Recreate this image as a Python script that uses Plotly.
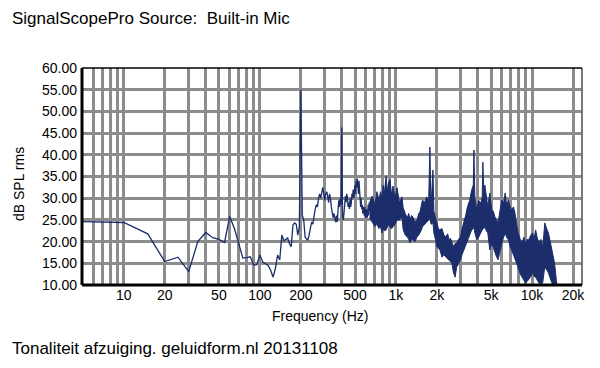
import plotly.graph_objects as go

# ---- data ----
# sparse low-frequency part of the spectrum (5 Hz bins)
line_freq = [5, 10, 15, 20, 25, 30, 35, 40, 45, 50, 55, 60, 65, 70, 75, 80, 85, 90, 95, 100,
             105, 110, 115, 120, 125, 130, 135, 140, 145, 150, 155, 160, 165, 170, 175, 180, 185,
             190, 195, 200, 205, 210, 215, 220, 225, 230, 235, 240, 245, 250, 255, 260, 265, 270,
             275, 280, 285, 290, 295, 300, 305, 310, 315, 320, 325, 330, 335, 340, 345, 350, 355,
             360, 365, 370, 375, 380, 385, 390, 395, 400, 405, 410, 415, 420, 425, 430, 435, 440,
             445, 450, 455, 460, 465, 470, 475, 480, 485, 490, 495, 500, 505, 510, 515, 520, 525,
             530, 535, 540, 545, 550, 555, 560, 565, 570, 575, 580, 585, 590, 595, 600, 605, 610,
             615, 620, 625, 630, 635, 640]
line_db = [24.6, 24.4, 21.8, 15.4, 16.4, 13.1, 20.0, 22.1, 20.9, 20.5, 19.8, 25.8, 23.0, 19.3, 16.2,
           16.3, 16.5, 14.6, 14.7, 16.9, 15.3, 14.9, 14.5, 13.4, 11.8, 13.8, 16.9, 15.8, 21.5, 20.2,
           20.6, 20.8, 19.5, 18.8, 23.8, 24.3, 24.0, 21.5, 23.5, 55.0, 26.0, 25.0, 21.0, 20.5, 20.3,
           21.5, 23.0, 24.5, 24.0, 26.5, 27.5, 28.5, 28.0, 30.0, 31.0, 30.0, 31.5, 32.5, 31.0, 29.5,
           31.0, 31.5, 30.5, 29.0, 31.0, 30.0, 28.0, 27.0, 25.5, 26.5, 25.0, 24.5, 26.0, 24.5, 27.0,
           29.5, 28.0, 30.0, 28.5, 46.3, 26.0, 25.0, 26.5, 28.0, 30.5, 29.0, 31.0, 30.0, 28.0, 29.0,
           27.5, 30.0, 28.0, 29.0, 31.0, 30.0, 32.0, 30.0, 31.5, 33.0, 31.0, 34.0, 32.5, 34.5, 33.0,
           31.0, 34.0, 32.0, 29.0, 28.0, 30.0, 27.5, 28.5, 26.5, 28.0, 27.0, 26.0, 28.0, 27.0, 25.5,
           27.5, 26.5, 25.5, 27.0, 28.5, 26.0, 29.0, 27.0, 28.0]

# dense upper part: the spectrum is a solid band, given by its upper and lower edges
band_freq = [640, 670, 700, 725, 750, 770, 790, 805, 820, 846, 865, 880, 904, 930, 951, 985,
             1018, 1060, 1107, 1130, 1170, 1210, 1240, 1270, 1300, 1330, 1380, 1430, 1470, 1500,
             1530, 1565, 1620, 1680, 1740, 1775, 1810, 1870, 1900, 1950, 2000, 2050, 2100, 2180,
             2250, 2330, 2400, 2450, 2510, 2570, 2650, 2720, 2790, 2880, 2980, 3060, 3150, 3250,
             3350, 3480, 3600, 3700, 3740, 3800, 3930, 4050, 4200, 4300, 4350, 4420, 4500, 4610,
             4730, 4890, 5050, 5200, 5330, 5480, 5630, 5800, 6000, 6180, 6350, 6500, 6700, 6900,
             7080, 7300, 7490, 7700, 7900, 8200, 8450, 8700, 8930, 9200, 9450, 9800, 10100, 10350,
             10620, 10900, 11200, 11600, 11970, 12200, 12400, 12800, 13200, 13600, 14000, 14300,
             14620, 15100, 15500]
band_hi = [29.0, 30.5, 28.5, 31.5, 29.5, 31.5, 30.0, 33.0, 31.0, 35.0, 31.5, 33.5, 34.3, 30.5,
           32.8, 30.0, 32.4, 29.0, 30.3, 27.8, 26.5, 25.4, 26.5, 25.0, 26.0, 25.7, 24.5, 25.0,
           26.5, 26.8, 28.0, 29.6, 29.0, 30.3, 29.5, 41.8, 28.0, 36.5, 27.0, 25.5, 24.3, 23.0,
           22.7, 23.0, 21.5, 21.1, 21.8, 20.4, 20.8, 19.7, 18.8, 19.5, 19.7, 20.5, 21.1, 23.0,
           24.3, 26.0, 28.0, 29.5, 31.9, 33.0, 41.1, 30.0, 27.3, 29.5, 28.9, 30.0, 38.3, 31.0,
           33.0, 30.0, 28.0, 31.2, 27.3, 27.0, 25.7, 25.0, 24.3, 27.0, 29.6, 29.0, 31.2, 28.5,
           29.6, 28.0, 27.3, 28.0, 26.6, 24.0, 22.0, 20.5, 19.7, 21.0, 19.7, 20.5, 20.4, 21.5,
           22.0, 20.5, 22.7, 21.0, 19.7, 20.5, 18.8, 21.5, 24.3, 23.0, 22.0, 20.0, 18.1, 17.0,
           15.1, 11.0, 8.0]
band_lo = [25.5, 24.5, 23.5, 24.0, 23.0, 23.5, 22.0, 23.0, 22.5, 22.7, 23.5, 24.0, 23.4, 23.0,
           23.4, 24.0, 25.0, 25.0, 25.7, 22.7, 21.5, 21.1, 20.5, 19.7, 20.5, 20.4, 20.0, 21.1,
           21.5, 22.0, 22.5, 23.4, 24.0, 24.5, 25.0, 25.7, 24.0, 24.3, 22.0, 20.5, 18.8, 18.5,
           18.1, 16.4, 17.0, 16.4, 16.0, 15.8, 15.5, 15.1, 12.8, 11.8, 14.1, 15.0, 15.8, 17.0,
           18.1, 19.0, 20.4, 21.5, 22.7, 23.0, 23.5, 22.0, 20.4, 21.0, 22.0, 22.5, 23.0, 23.0,
           23.4, 22.5, 22.0, 18.1, 19.7, 18.5, 17.4, 16.5, 15.8, 18.0, 19.7, 21.0, 22.0, 21.0,
           20.4, 19.0, 18.1, 17.0, 16.4, 15.0, 14.1, 12.5, 11.8, 10.8, 10.5, 10.8, 11.2, 12.0,
           12.8, 12.0, 11.8, 11.0, 10.5, 10.2, 10.5, 12.5, 14.1, 13.5, 12.8, 11.5, 10.5, 9.5,
           9.0, 8.0, 7.0]

# axis ticks
y_ticks = [10, 15, 20, 25, 30, 35, 40, 45, 50, 55, 60]
x_grid = [6, 7, 8, 9, 10, 20, 30, 40, 50, 60, 70, 80, 90, 100, 200, 300, 400, 500, 600, 700, 800,
          900, 1000, 2000, 3000, 4000, 5000, 6000, 7000, 8000, 9000, 10000, 20000]
x_labels = {10: "10", 20: "20", 50: "50", 100: "100", 200: "200", 500: "500", 1000: "1k",
            2000: "2k", 5000: "5k", 10000: "10k", 20000: "20k"}

# ---- figure ----
NAVY = "#1b2d6b"
GRID = "#8c8c8c"
FONT = "Liberation Sans, Arial, Helvetica, sans-serif"

OFF = 8  # page body margin
W, H = 600, 368
# target plot box on screen: x 82..582, y 68..285
L, T = 82 - OFF, 68 - OFF
R = W - (582 - OFF)
B = H - (285 - OFF)
PW, PH = W - L - R, H - T - B


def px(x):
    return (x - OFF - L) / PW


def py(y):
    return (H - B - (y - OFF)) / PH


fig = go.Figure()
fig.add_trace(go.Scatter(x=band_freq, y=band_lo, mode="lines",
                         line=dict(color=NAVY, width=1), hoverinfo="skip"))
fig.add_trace(go.Scatter(x=band_freq, y=band_hi, mode="lines", fill="tonexty",
                         fillcolor=NAVY, line=dict(color=NAVY, width=1), hoverinfo="skip"))
fig.add_trace(go.Scatter(x=line_freq, y=line_db, mode="lines",
                         line=dict(color=NAVY, width=1.3), hoverinfo="skip"))

fig.update_layout(
    width=W, height=H,
    margin=dict(l=L, r=R, t=T, b=B, autoexpand=False),
    paper_bgcolor="white", plot_bgcolor="white",
    showlegend=False,
    font=dict(family=FONT, color="black", size=14),
    xaxis=dict(type="log", range=[0.693, 4.367],
               tickvals=x_grid, ticktext=[x_labels.get(v, "") for v in x_grid],
               showgrid=True, gridcolor=GRID, gridwidth=2.5,
               zeroline=False, showline=False, ticks="",
               tickfont=dict(size=14)),
    yaxis=dict(range=[10, 60], tickvals=y_ticks, tickformat=".2f",
               showgrid=True, gridcolor=GRID, gridwidth=2.5,
               zeroline=False, showline=False, ticks="", ticklabelstandoff=4,
               tickfont=dict(size=14)),
    shapes=[
        dict(type="line", xref="paper", yref="paper", x0=1, x1=1, y0=0, y1=1,
             line=dict(color="#777777", width=2)),
        dict(type="line", xref="paper", yref="paper", x0=0, x1=1, y0=1, y1=1,
             line=dict(color="black", width=1.5)),
        dict(type="line", xref="paper", yref="paper", x0=0, x1=0, y0=0, y1=1,
             line=dict(color="black", width=3)),
        dict(type="line", xref="paper", yref="paper", x0=0, x1=1, y0=0, y1=0,
             line=dict(color="black", width=3)),
    ],
    annotations=[
        dict(text="SignalScopePro Source:  Built-in Mic", xref="paper", yref="paper",
             x=px(10), y=py(18), xanchor="left", yanchor="middle", showarrow=False,
             font=dict(size=17)),
        dict(text="dB SPL rms", xref="paper", yref="paper", x=px(19), y=py(184),
             xanchor="center", yanchor="middle", textangle=-90, showarrow=False,
             font=dict(size=14)),
        dict(text="Frequency (Hz)", xref="paper", yref="paper", x=px(320), y=py(316),
             xanchor="center", yanchor="middle", showarrow=False, font=dict(size=14)),
        dict(text="Tonaliteit afzuiging. geluidform.nl 20131108", xref="paper", yref="paper",
             x=px(10), y=py(348), xanchor="left", yanchor="middle", showarrow=False,
             font=dict(size=17)),
    ],
)

fig.write_html("out.html")
